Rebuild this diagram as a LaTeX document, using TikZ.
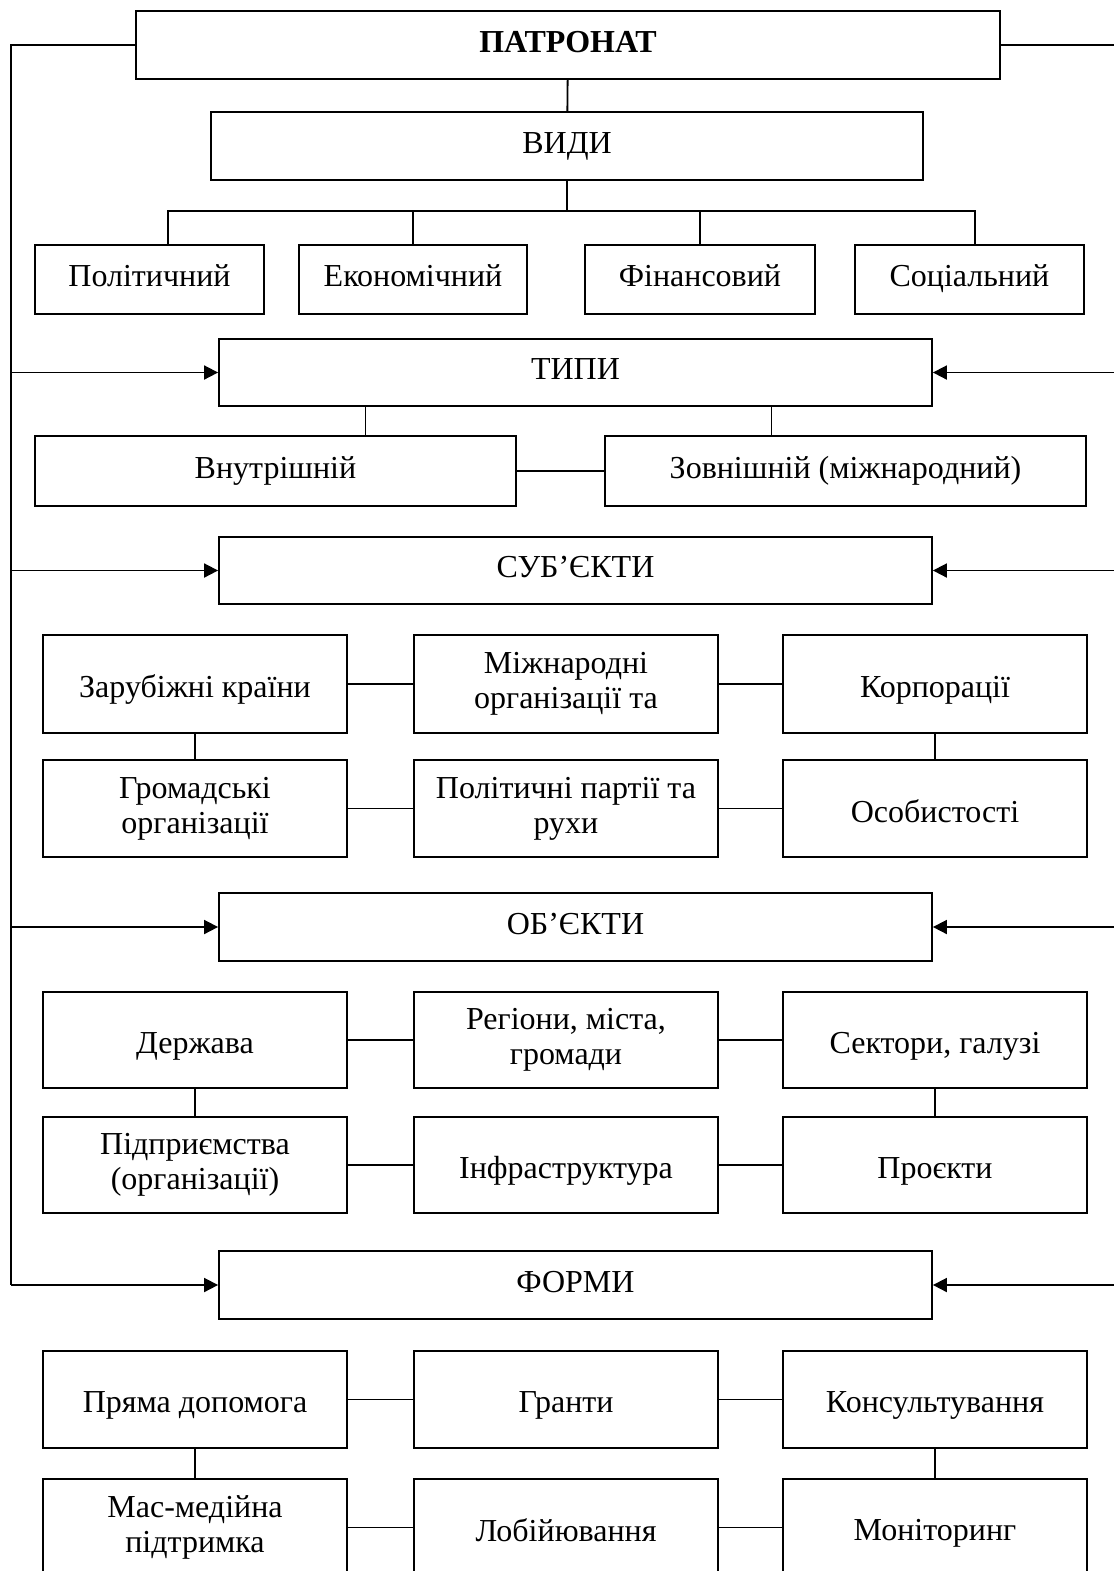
\documentclass[tikz,border=0pt]{standalone}
\usepackage{fontspec}
\setmainfont{Liberation Serif}
\usetikzlibrary{arrows.meta}

\begin{document}
\begin{tikzpicture}[x=0.5pt, y=-0.5pt, line width=0.9pt,
    every node/.style={font=\fontsize{16}{17.5}\selectfont},
    frame/.style 2 args={draw, align=center, inner sep=2pt, minimum width=#1*0.5pt, minimum height=#2*0.5pt},
    box/.style 2 args={frame={#1}{#2}, execute at begin node=\strut},
    tallbox/.style={frame={304}{#1}, execute at begin node=\rule[-3pt]{0pt}{19.5pt}},
    arr/.style={-{Triangle[length=7pt, width=7pt]}}]
    \clip (0,0) rectangle (1114,1571);

    % top
    \node [box={864}{68}] (patronat) at (568,45) {\bfseries ПАТРОНАТ};
    \node [box={712}{68}] (vydy) at (567,146) {ВИДИ};
    \node [box={229}{69}] (pol) at (149.5,279.5) {Політичний};
    \node [box={228}{69}] (eko) at (413,279.5) {Економічний};
    \node [box={230}{69}] (fin) at (700,279.5) {Фінансовий};
    \node [box={229}{69}] (soc) at (969.5,279.5) {Соціальний};

    % types
    \node [box={713}{67}] (typy) at (575.5,372.5) {ТИПИ};
    \node [box={481}{70}] (vnut) at (275.5,471) {Внутрішній};
    \node [box={481}{70}] (zovn) at (845.5,471) {Зовнішній (міжнародний)};

    % subjects
    \node [box={713}{67}] (sub) at (575.5,570.5) {СУБ’ЄКТИ};
    \node [tallbox=98] (s11) at (195,684) {Зарубіжні країни};
    \node [tallbox=98] (s12) at (566,684) {Міжнародні\\організації та};
    \node [tallbox=98] (s13) at (935,684) {Корпорації};
    \node [tallbox=97] (s21) at (195,808.5) {Громадські\\організації};
    \node [tallbox=97] (s22) at (566,808.5) {Політичні партії та\\рухи};
    \node [tallbox=97] (s23) at (935,808.5) {Особистості};

    % objects
    \node [box={713}{68}] (ob) at (575.5,927) {ОБ’ЄКТИ};
    \node [tallbox=96] (o11) at (195,1040) {Держава};
    \node [tallbox=96] (o12) at (566,1040) {Регіони, міста,\\громади};
    \node [tallbox=96] (o13) at (935,1040) {Сектори, галузі};
    \node [tallbox=96] (o21) at (195,1165) {Підприємства\\(організації)};
    \node [tallbox=96] (o22) at (566,1165) {Інфраструктура};
    \node [tallbox=96] (o23) at (935,1165) {Проєкти};

    % forms
    \node [box={713}{68}] (form) at (575.5,1285) {ФОРМИ};
    \node [tallbox=97] (f11) at (195,1399.5) {Пряма допомога};
    \node [tallbox=97] (f12) at (566,1399.5) {Гранти};
    \node [tallbox=97] (f13) at (935,1399.5) {Консультування};
    \node [tallbox=97] (f21) at (195,1527.5) {Мас-медійна\\підтримка};
    \node [tallbox=97] (f22) at (566,1527.5) {Лобійювання};
    \node [tallbox=97] (f23) at (935,1527.5) {Моніторинг};

    % kinds
    \draw (patronat) -- (vydy);
    \coordinate (bus) at (567,211);
    \draw (vydy.south) -- (bus);
    \draw ([xshift=9.25pt]pol.north) |- (bus) -| ([xshift=2.75pt]soc.north);
    \draw (eko.north) -- (eko.north |- bus);
    \draw (fin.north) -- (fin.north |- bus);

    % types
    \coordinate (t1) at ([xshift=-105pt]typy.south);
    \coordinate (t2) at ([xshift=98pt]typy.south);
    \draw (t1) -- (t1 |- vnut.north);
    \draw (t2) -- (t2 |- zovn.north);
    \draw (vnut) -- (zovn);

    % grids
    \foreach \r in {s,o,f} {
        \draw (\r11) -- (\r12);
        \draw (\r12) -- (\r13);
        \draw (\r21) -- (\r22);
        \draw (\r22) -- (\r23);
        \draw (\r11) -- (\r21);
        \draw (\r13) -- (\r23);
    }

    % side lines
    \coordinate (ltop) at (11,45);
    \coordinate (rtop) at (1120,45);
    \draw (patronat.west) -- (ltop) -- (ltop |- form.west);
    \draw (patronat.east) -- (rtop);
    \foreach \n in {typy,sub,ob,form} {
        \draw [arr] (ltop |- \n.west) -- (\n.west);
        \draw [arr] (rtop |- \n.east) -- (\n.east);
    }
\end{tikzpicture}
\end{document}
